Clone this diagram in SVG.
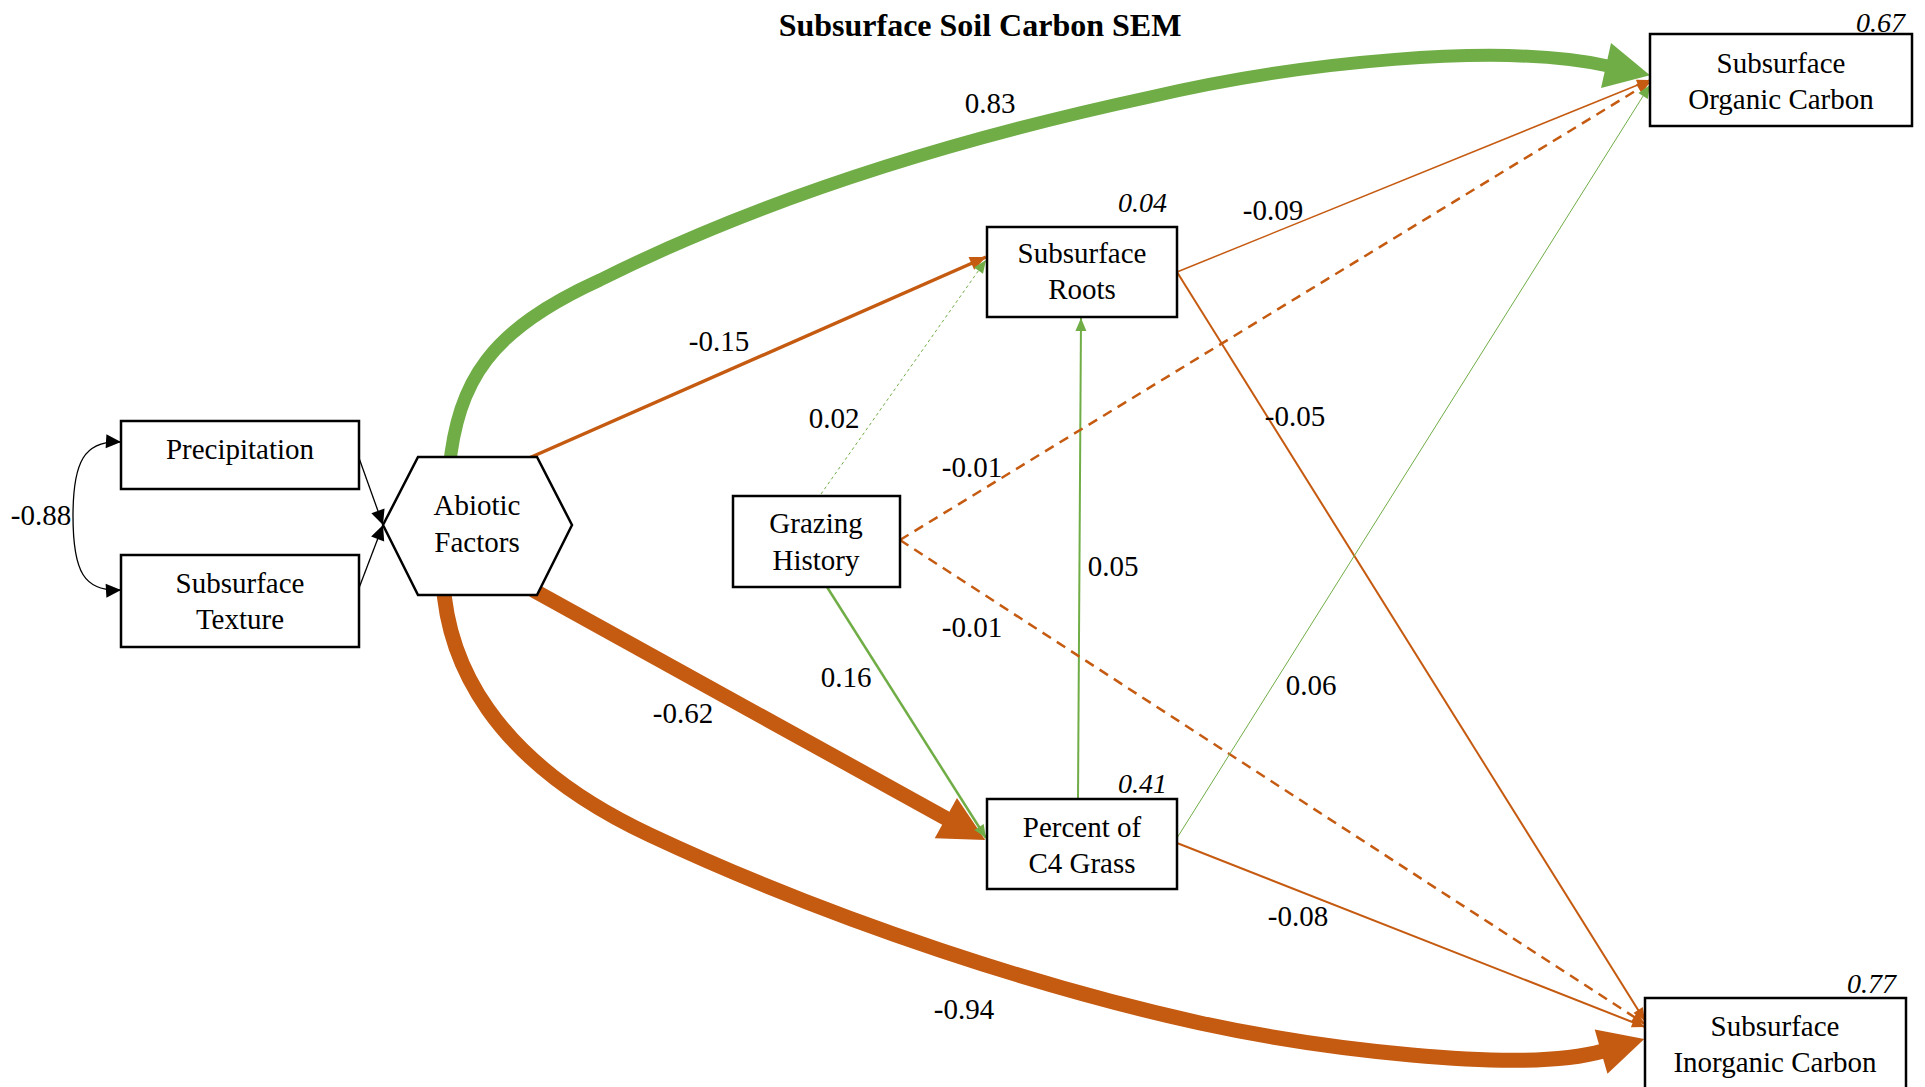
<svg xmlns="http://www.w3.org/2000/svg" width="1925" height="1087" viewBox="0 0 1925 1087">
<style>
.node{fill:#fff;stroke:#000;stroke-width:2.5}
.t{font-family:"Liberation Serif","Times New Roman",serif;font-size:29px;fill:#000;text-anchor:middle}
.r2{font-family:"Liberation Serif","Times New Roman",serif;font-size:28px;font-style:italic;fill:#000;text-anchor:end}
.lbl{font-family:"Liberation Serif","Times New Roman",serif;font-size:29px;fill:#000;text-anchor:middle}
.title{font-family:"Liberation Serif","Times New Roman",serif;font-size:32px;font-weight:bold;fill:#000;text-anchor:middle}
.g{stroke:#70AD47;fill:none}
.o{stroke:#C55A11;fill:none}
.k{stroke:#000;fill:none}
</style>
<defs>
<marker id="mGB" markerUnits="userSpaceOnUse" markerWidth="46" markerHeight="46" refX="2" refY="23" orient="auto" overflow="visible"><path d="M0,0 L45,23 L0,46 z" fill="#70AD47"/></marker>
<marker id="mOB" markerUnits="userSpaceOnUse" markerWidth="46" markerHeight="46" refX="2" refY="23" orient="auto" overflow="visible"><path d="M0,0 L45,23 L0,46 z" fill="#C55A11"/></marker>
<marker id="mOM" markerUnits="userSpaceOnUse" markerWidth="17" markerHeight="14" refX="16" refY="7" orient="auto" overflow="visible"><path d="M0,0 L16,7 L0,14 z" fill="#C55A11"/></marker>
<marker id="mOS" markerUnits="userSpaceOnUse" markerWidth="14" markerHeight="11" refX="13" refY="5.5" orient="auto" overflow="visible"><path d="M0,0 L13,5.5 L0,11 z" fill="#C55A11"/></marker>
<marker id="mGS" markerUnits="userSpaceOnUse" markerWidth="14" markerHeight="11" refX="13" refY="5.5" orient="auto" overflow="visible"><path d="M0,0 L13,5.5 L0,11 z" fill="#70AD47"/></marker>
<marker id="mK" markerUnits="userSpaceOnUse" markerWidth="16" markerHeight="14" refX="15" refY="7" orient="auto-start-reverse" overflow="visible"><path d="M0,0 L15,7 L0,14 z" fill="#000"/></marker>
</defs>
<rect width="1925" height="1087" fill="#fff"/>
<text class="title" x="980" y="36">Subsurface Soil Carbon SEM</text>
<g id="connectors">
<path class="k" stroke-width="1.3" d="M121,442 C84,440 73,462 73,516 C73,572 84,592 121,590" marker-start="url(#mK)" marker-end="url(#mK)"/>
<path class="k" stroke-width="1.3" d="M359,458 L383,525" marker-end="url(#mK)"/>
<path class="k" stroke-width="1.3" d="M359,588 L383,525" marker-end="url(#mK)"/>
<path class="g" stroke-width="13" d="M449,470 C458,380 490,330 600,280 C760,200 950,140 1150,97 C1300,62 1500,42 1608,66" marker-end="url(#mGB)"/>
<path class="o" stroke-width="15" d="M443,580 C447,660 490,760 650,835 C842,925 1050,990 1200,1023 C1310,1047 1520,1075 1603,1051" marker-end="url(#mOB)"/>
<path class="o" stroke-width="15" d="M533,590 L947.6,819.2" marker-end="url(#mOB)"/>
<path class="o" stroke-width="3.5" d="M520,462 L986,257" marker-end="url(#mOM)"/>
<path class="g" stroke-width="1" stroke-dasharray="3,3" d="M821,494 L986,260" marker-end="url(#mGS)"/>
<path class="g" stroke-width="2.5" d="M827,587 L986,838" marker-end="url(#mGS)"/>
<path class="g" stroke-width="2" d="M1078,799 L1081,318" marker-end="url(#mGS)"/>
<path class="o" stroke-width="2.5" stroke-dasharray="10,7" d="M900,540 L1650,82" marker-end="url(#mOS)"/>
<path class="o" stroke-width="2.5" stroke-dasharray="10,7" d="M900,540 L1645,1024" marker-end="url(#mOS)"/>
<path class="o" stroke-width="1.5" d="M1177,272 L1650,80" marker-end="url(#mOS)"/>
<path class="o" stroke-width="2" d="M1177,272 L1645,1021" marker-end="url(#mOS)"/>
<path class="g" stroke-width="1" d="M1177,838 L1650,85" marker-end="url(#mGS)"/>
<path class="o" stroke-width="2" d="M1177,843 L1645,1027" marker-end="url(#mOS)"/>
<text class="lbl" x="41" y="525">-0.88</text>
<text class="lbl" x="990" y="113">0.83</text>
<text class="lbl" x="719" y="351">-0.15</text>
<text class="lbl" x="834" y="428">0.02</text>
<text class="lbl" x="972" y="477">-0.01</text>
<text class="lbl" x="972" y="637">-0.01</text>
<text class="lbl" x="846" y="687">0.16</text>
<text class="lbl" x="683" y="723">-0.62</text>
<text class="lbl" x="1113" y="576">0.05</text>
<text class="lbl" x="1311" y="695">0.06</text>
<text class="lbl" x="1295" y="426">-0.05</text>
<text class="lbl" x="1273" y="220">-0.09</text>
<text class="lbl" x="1298" y="926">-0.08</text>
<text class="lbl" x="964" y="1019">-0.94</text>
</g>
<g id="precipitation">
<rect class="node" x="121" y="421" width="238" height="68"/>
<text class="t" x="240" y="459">Precipitation</text>
</g>
<g id="texture">
<rect class="node" x="121" y="555" width="238" height="92"/>
<text class="t" x="240" y="593">Subsurface</text>
<text class="t" x="240" y="629">Texture</text>
</g>
<g id="abiotic">
<polygon class="node" points="383,525 418,457 537,457 572,525 537,595 418,595"/>
<text class="t" x="477" y="515">Abiotic</text>
<text class="t" x="477" y="552">Factors</text>
</g>
<g id="grazing">
<rect class="node" x="733" y="496" width="167" height="91"/>
<text class="t" x="816" y="533">Grazing</text>
<text class="t" x="816" y="570">History</text>
</g>
<g id="roots">
<rect class="node" x="987" y="227" width="190" height="90"/>
<text class="t" x="1082" y="263">Subsurface</text>
<text class="t" x="1082" y="299">Roots</text>
<text class="r2" x="1167" y="212">0.04</text>
</g>
<g id="c4grass">
<rect class="node" x="987" y="799" width="190" height="90"/>
<text class="t" x="1082" y="837">Percent of</text>
<text class="t" x="1082" y="873">C4 Grass</text>
<text class="r2" x="1167" y="793">0.41</text>
</g>
<g id="organic">
<rect class="node" x="1650" y="34" width="262" height="92"/>
<text class="t" x="1781" y="73">Subsurface</text>
<text class="t" x="1781" y="109">Organic Carbon</text>
<text class="r2" x="1905" y="32">0.67</text>
</g>
<g id="inorganic">
<rect class="node" x="1645" y="998" width="261" height="95"/>
<text class="t" x="1775" y="1036">Subsurface</text>
<text class="t" x="1775" y="1072">Inorganic Carbon</text>
<text class="r2" x="1896" y="993">0.77</text>
</g>
</svg>
